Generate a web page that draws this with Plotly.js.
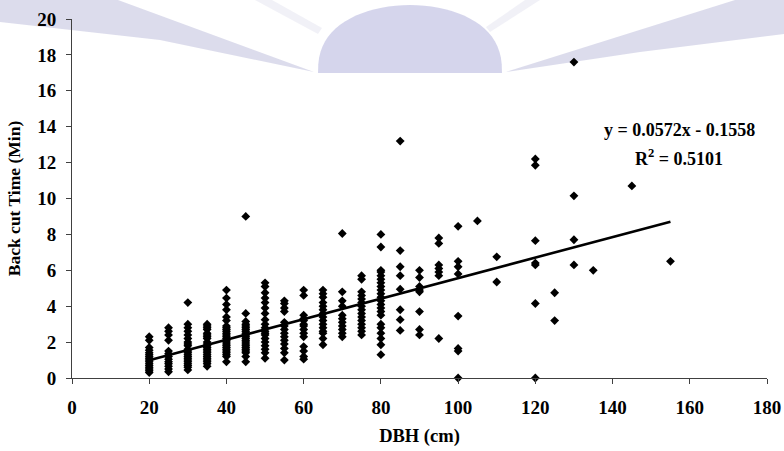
<!DOCTYPE html>
<html>
<head>
<meta charset="utf-8">
<script src="https://cdn.plot.ly/plotly-3.0.1.min.js"></script>
<style>html,body{margin:0;padding:0;background:#fff;}#chart{width:784px;height:451px;}</style>
</head>
<body>
<div id="chart"></div>
<script>
// DBH classes (cm) and the back cut times (min) observed in each class
const dbhClasses = [20, 25, 30, 35, 40, 45, 50, 55, 60, 65, 70, 75, 80, 85, 90, 95, 100, 105, 110, 120, 125, 130, 135, 145, 155];
const t20 = [2.3, 2.1, 1.7, 1.55, 1.4, 1.3, 1.2, 1.1, 1.0, 0.9, 0.8, 0.7, 0.6, 0.5, 0.4, 0.3];
const t25 = [2.8, 2.6, 2.4, 2.1, 1.5, 1.35, 1.2, 1.05, 0.9, 0.8, 0.65, 0.5, 0.35];
const t30 = [4.2, 3.0, 2.8, 2.6, 2.4, 2.2, 2.0, 1.9, 1.8, 1.6, 1.5, 1.4, 1.3, 1.2, 1.1, 1.0, 0.9, 0.8, 0.7, 0.6, 0.45];
const t35 = [3.0, 2.9, 2.8, 2.7, 2.5, 2.4, 2.3, 2.2, 2.0, 1.9, 1.8, 1.7, 1.6, 1.5, 1.4, 1.3, 1.2, 1.1, 1.0, 0.9, 0.8, 0.65];
const t40 = [4.9, 4.45, 4.1, 3.8, 3.4, 3.2, 2.9, 2.8, 2.7, 2.6, 2.5, 2.4, 2.3, 2.2, 2.1, 2.0, 1.9, 1.8, 1.7, 1.6, 1.5, 1.4, 1.3, 1.2, 0.9];
const t45 = [9.0, 3.6, 3.15, 3.0, 2.9, 2.8, 2.7, 2.6, 2.5, 2.4, 2.3, 2.2, 2.1, 2.0, 1.9, 1.8, 1.7, 1.6, 1.5, 1.4, 1.2, 0.9];
const t50 = [5.3, 5.1, 4.75, 4.45, 4.2, 3.9, 3.6, 3.25, 3.0, 2.8, 2.6, 2.5, 2.4, 2.2, 2.0, 1.8, 1.6, 1.4, 1.1];
const t55 = [4.3, 4.15, 3.9, 3.7, 3.1, 2.9, 2.7, 2.5, 2.3, 2.1, 1.9, 1.65, 1.4, 1.0];
const t60 = [4.9, 4.6, 3.5, 3.3, 3.2, 3.0, 2.9, 2.7, 2.5, 2.3, 1.75, 1.5, 1.2, 1.05];
const t65 = [4.9, 4.7, 4.5, 4.2, 4.0, 3.8, 3.6, 3.4, 3.2, 3.0, 2.8, 2.6, 2.5, 2.2, 1.85];
const t70 = [8.05, 4.8, 4.3, 4.0, 3.5, 3.3, 3.1, 2.9, 2.7, 2.5, 2.3];
const t75 = [5.7, 5.5, 4.8, 4.6, 4.4, 4.2, 4.0, 3.8, 3.6, 3.4, 3.2, 3.0, 2.8, 2.6, 2.4];
const t80 = [8.0, 7.3, 6.0, 5.9, 5.7, 5.5, 5.3, 5.1, 4.9, 4.7, 4.5, 4.3, 4.1, 3.9, 3.7, 3.5, 3.0, 2.8, 2.5, 2.2, 1.85, 1.3];
const t85 = [13.2, 7.1, 6.2, 5.7, 4.95, 3.8, 3.25, 2.65];
const t90 = [6.0, 5.6, 5.1, 4.9, 4.8, 3.7, 2.7, 2.4];
const t95 = [7.8, 7.5, 6.3, 6.1, 5.9, 5.7, 2.2];
const t100 = [8.45, 6.5, 6.2, 5.8, 3.45, 1.65, 1.5, 0];
const t105 = [8.75];
const t110 = [6.75, 5.35];
const t120 = [12.2, 11.85, 7.65, 6.4, 6.3, 4.15, 0];
const t125 = [4.75, 3.2];
const t130 = [17.6, 10.15, 7.7, 6.3];
const t135 = [6.0];
const t145 = [10.7];
const t155 = [6.5];
const timeByClass = [t20, t25, t30, t35, t40, t45, t50, t55, t60, t65, t70, t75, t80, t85, t90, t95, t100, t105, t110, t120, t125, t130, t135, t145, t155];

// Linear trend line reported on the chart
const slope = 0.0572;
const intercept = -0.1558;
const trendX = [20, 155];
const equationText = "y = 0.0572x - 0.1558";
const r2Text = "R<sup>2</sup> = 0.5101";

const xTicks = [0, 20, 40, 60, 80, 100, 120, 140, 160, 180];
const yTicks = [0, 2, 4, 6, 8, 10, 12, 14, 16, 18, 20];

const dbh = [], time = [];
dbhClasses.forEach((d, i) => timeByClass[i].forEach(v => { dbh.push(d); time.push(v); }));
const trendY = trendX.map(x => slope * x + intercept);

// plot area in pixels (for watermark decoration)
const L = 72, R = 767, T = 19, B = 378;
const px = p => (p - L) / (R - L);
const py = p => (B - p) / (B - T);
function poly(pts) {
  return 'M ' + pts.map(p => px(p[0]).toFixed(4) + ',' + py(p[1]).toFixed(4)).join(' L ') + ' Z';
}
const semi = [];
for (let k = 0; k <= 40; k++) {
  const a = Math.PI * k / 40;
  semi.push([410 - 92 * Math.cos(a), 73 - 68 * Math.pow(Math.sin(a), 0.8)]);
}
const shapes = [
  {type: 'path', xref: 'paper', yref: 'paper', layer: 'below', line: {width: 0}, fillcolor: 'rgba(205,205,228,0.7)',
   path: poly([[0, 0], [118, 0], [314, 72], [160, 40], [0, 22]])},
  {type: 'path', xref: 'paper', yref: 'paper', layer: 'below', line: {width: 0}, fillcolor: 'rgba(215,215,232,0.35)',
   path: poly([[255, 0], [272, 0], [322, 28], [318, 34]])},
  {type: 'path', xref: 'paper', yref: 'paper', layer: 'below', line: {width: 0}, fillcolor: 'rgba(215,215,232,0.35)',
   path: poly([[525, 0], [540, 0], [490, 32], [486, 27]])},
  {type: 'path', xref: 'paper', yref: 'paper', layer: 'below', line: {width: 0}, fillcolor: 'rgba(205,205,228,0.7)',
   path: poly([[506, 72], [735, 0], [784, 0], [784, 34], [640, 52]])},
  {type: 'path', xref: 'paper', yref: 'paper', layer: 'below', line: {width: 0}, fillcolor: 'rgba(208,208,234,0.9)',
   path: poly(semi)}
];

const font = "'Liberation Serif', 'Times New Roman', Times, serif";
const data = [
  {x: dbh, y: time, type: 'scatter', mode: 'markers', cliponaxis: false,
   marker: {symbol: 'diamond', size: 6.8, color: '#000'}, showlegend: false, hoverinfo: 'x+y'},
  {x: trendX, y: trendY, type: 'scatter', mode: 'lines',
   line: {color: '#000', width: 2.6}, showlegend: false}
];
const tf = {family: font, size: 19, weight: 'bold', color: '#000'};
const layout = {
  width: 784, height: 451,
  margin: {l: L, r: 784 - R, t: T, b: 451 - B, pad: 0},
  paper_bgcolor: '#fff', plot_bgcolor: 'rgba(0,0,0,0)',
  font: {family: font, color: '#000', size: 18, weight: 'bold'},
  shapes: shapes,
  xaxis: {range: [0, 180], tickvals: xTicks, ticktext: xTicks.map(String), showgrid: false, zeroline: false,
          showline: true, linecolor: '#404040', linewidth: 1, ticks: 'outside', ticklen: 5, tickcolor: '#404040',
          tickfont: tf, ticklabelstandoff: 7,
          title: {text: 'DBH (cm)', font: {family: font, size: 18.5, weight: 'bold', color: '#000'}, standoff: 12}},
  yaxis: {range: [0, 20], tickvals: yTicks, ticktext: yTicks.map(String), showgrid: false, zeroline: false,
          showline: true, linecolor: '#404040', linewidth: 1, ticks: 'outside', ticklen: 5, tickcolor: '#404040',
          tickfont: tf, ticklabelstandoff: 6,
          title: {text: 'Back cut Time (Min)', font: {family: font, size: 17.5, weight: 'bold', color: '#000'}, standoff: 12}},
  annotations: [
    {xref: 'paper', yref: 'paper', x: px(679), y: py(130), text: equationText, showarrow: false,
     font: {family: font, size: 18, weight: 'bold', color: '#000'}, xanchor: 'center', yanchor: 'middle'},
    {xref: 'paper', yref: 'paper', x: px(679), y: py(157), text: r2Text, showarrow: false,
     font: {family: font, size: 18, weight: 'bold', color: '#000'}, xanchor: 'center', yanchor: 'middle'}
  ]
};
Plotly.newPlot('chart', data, layout, {displayModeBar: false, staticPlot: true});
</script>
</body>
</html>
